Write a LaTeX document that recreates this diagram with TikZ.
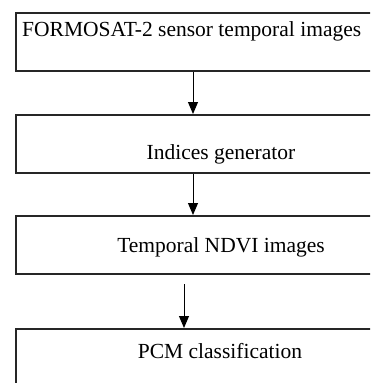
\documentclass[tikz,border=0pt]{standalone}
\usepackage{fontspec}
\setmainfont{Liberation Serif}
\usetikzlibrary{arrows.meta}
\begin{document}
\begin{tikzpicture}[x=1pt,y=-1pt,
  box/.style={draw=black!85, line width=1.5pt, rectangle, anchor=north west, inner sep=0pt, minimum width=380pt},
  lbl/.style={anchor=base, inner sep=0pt, font=\fontsize{21.5}{25}\selectfont},
  arr/.style={draw=black, line width=1pt, -{Triangle[width=10pt,length=12pt]}}]
\useasboundingbox (0,0) rectangle (370,383);
\clip (0,0) rectangle (370,383);
\fill[white] (0,0) rectangle (370,383);
\node[box, minimum height=58pt] (b1) at (15,12) {};
\node[box, minimum height=58pt] (b2) at (15,114) {};
\node[box, minimum height=58pt] (b3) at (15,215) {};
\node[box, minimum height=80pt] (b4) at (15,328) {};
\node[lbl, anchor=base west] (t1) at (22,36) {FORMOSAT-2 sensor temporal images};
\node[lbl] (t2) at (221,159) {Indices generator};
\node[lbl] (t3) at (221,252) {Temporal NDVI images};
\node[lbl] (t4) at (220,358) {PCM classification};
\coordinate (x1) at (193,0);
\coordinate (s3) at (184,284);
\draw[arr] (b1.south -| x1) -- (b2.north -| x1);
\draw[arr] (b2.south -| x1) -- (b3.north -| x1);
\draw[arr] (s3) -- (s3 |- b4.north);
\end{tikzpicture}
\end{document}
